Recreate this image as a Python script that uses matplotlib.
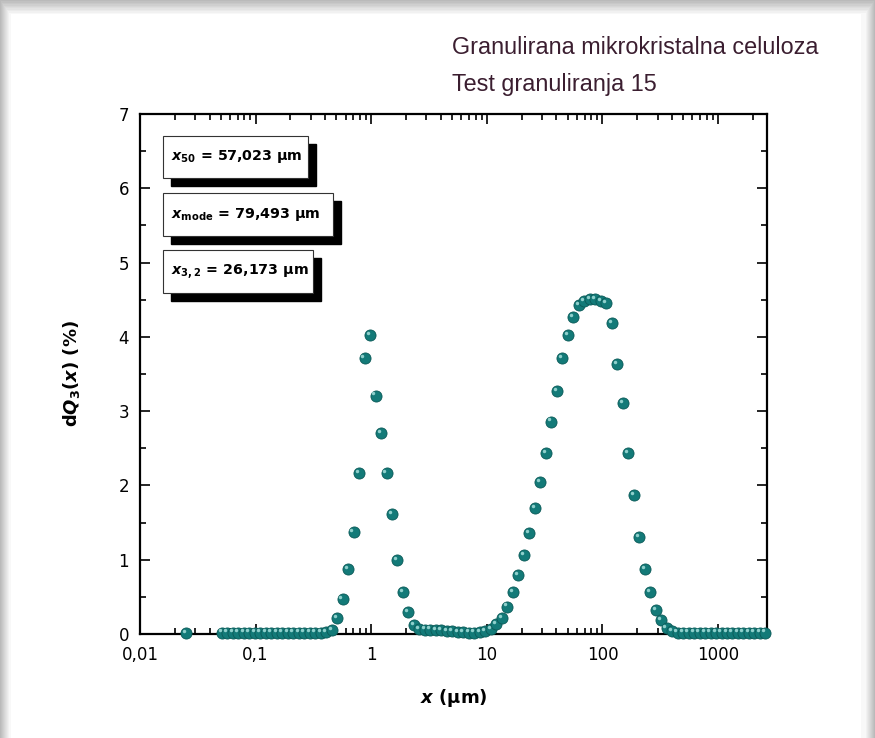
import numpy as np
import matplotlib
matplotlib.use("Agg")
import matplotlib.pyplot as plt
from matplotlib.patches import Rectangle
from matplotlib.ticker import FixedLocator, FixedFormatter, LogLocator, MultipleLocator, NullFormatter
from matplotlib import transforms

# particle size (um) and dQ3 (%)
x_lone = [0.025]
y_lone = [0.01]
x_um = [0.0509, 0.0568, 0.0634, 0.0707, 0.0789, 0.0880, 0.0982, 0.1095, 0.1222, 0.1363,
        0.1521, 0.1697, 0.1893, 0.2112, 0.2356, 0.2628, 0.2932, 0.3271, 0.3649, 0.4071,
        0.4542, 0.5067, 0.5652, 0.6306, 0.7035, 0.7848, 0.8755, 0.9763, 1.089, 1.215,
        1.356, 1.512, 1.687, 1.882, 2.100, 2.343, 2.613, 2.915, 3.252, 3.628,
        4.047, 4.515, 5.037, 5.619, 6.268, 6.993, 7.801, 8.702, 9.707, 10.83,
        12.08, 13.48, 15.04, 16.77, 18.71, 20.88, 23.29, 25.98, 28.98, 32.33,
        36.07, 40.24, 44.89, 50.07, 55.86, 62.32, 69.52, 77.56, 86.53, 96.52,
        107.7, 120.1, 134.0, 149.5, 166.8, 186.1, 207.6, 231.6, 258.3, 288.2,
        321.5, 358.6, 400.1, 446.3, 497.9, 555.5, 619.7, 691.3, 771.2, 860.3,
        959.8, 1071, 1194, 1332, 1486, 1658, 1850, 2064, 2302, 2568]
dq3 = [0.02, 0.02, 0.02, 0.02, 0.02, 0.02, 0.02, 0.02, 0.02, 0.02,
       0.02, 0.02, 0.02, 0.02, 0.02, 0.02, 0.02, 0.02, 0.02, 0.03,
       0.05, 0.22, 0.47, 0.88, 1.37, 2.17, 3.72, 4.03, 3.21, 2.71,
       2.17, 1.62, 0.99, 0.56, 0.29, 0.12, 0.07, 0.06, 0.06, 0.05,
       0.05, 0.04, 0.04, 0.03, 0.03, 0.02, 0.02, 0.03, 0.04, 0.07,
       0.13, 0.21, 0.37, 0.56, 0.79, 1.06, 1.36, 1.69, 2.05, 2.43,
       2.86, 3.27, 3.71, 4.03, 4.27, 4.43, 4.48, 4.51, 4.51, 4.48,
       4.46, 4.18, 3.64, 3.11, 2.44, 1.87, 1.30, 0.87, 0.56, 0.32,
       0.19, 0.08, 0.04, 0.02, 0.02, 0.02, 0.02, 0.02, 0.02, 0.02,
       0.02, 0.02, 0.02, 0.02, 0.02, 0.02, 0.02, 0.02, 0.02, 0.02]

xticks = [0.01, 0.1, 1, 10, 100, 1000]
xticklabels = ["0,01", "0,1", "1", "10", "100", "1000"]
stats = [r"$\mathbfit{x}_{\mathbf{50}}$ = 57,023 μm",
         r"$\mathbfit{x}_{\mathbf{mode}}$ = 79,493 μm",
         r"$\mathbfit{x}_{\mathbf{3,2}}$ = 26,173 μm"]
title_lines = ["Granulirana mikrokristalna celuloza", "Test granuliranja 15"]

fig = plt.figure(figsize=(8.75, 7.38), dpi=100, facecolor="#b9b9b9")

# page with soft shadow
for i in range(10):
    g = 0.73 + 0.027 * i
    fig.add_artist(Rectangle((0.0 + i * 0.0011, -0.1), 1.0 - i * 0.0022, 1.1 - i * 0.0019,
                             transform=fig.transFigure, fc=(g, g, g), ec="none", zorder=-10 + i))
fig.add_artist(Rectangle((11 / 875, -0.1), (861 - 11) / 875, 1.1 - 14 / 738,
                         transform=fig.transFigure, fc="white", ec="none", zorder=0))

ax = fig.add_axes([140 / 875, 1 - 634 / 738, 627 / 875, 520 / 738])
ax.set_zorder(2)
ax.patch.set_facecolor("white")

body = "#137a78"
hl = transforms.offset_copy(ax.transData, fig=fig, x=-1.5, y=1.5, units="points")
for xs, ys in ((x_lone, y_lone), (x_um, dq3)):
    ax.plot(xs, ys, "o", ms=8, mfc=body, mec="#0b5a58", mew=0.6, clip_on=False, zorder=4)
    ax.plot(xs, ys, "o", ms=2.5, mfc="#8fd0cc", mec="none", clip_on=False, zorder=5,
            transform=hl)

ax.set_xscale("log")
ax.set_xlim(0.01, 2650)
ax.set_ylim(0, 7)
ax.xaxis.set_major_locator(FixedLocator(xticks))
ax.xaxis.set_major_formatter(FixedFormatter(xticklabels))
ax.xaxis.set_minor_locator(LogLocator(base=10, subs=np.arange(2, 10)))
ax.xaxis.set_minor_formatter(NullFormatter())
ax.yaxis.set_major_locator(MultipleLocator(1))
ax.yaxis.set_minor_locator(MultipleLocator(0.5))
ax.tick_params(which="both", direction="in", top=True, right=True, width=1.2,
               labelsize=12)
ax.tick_params(which="major", length=7)
ax.tick_params(which="minor", length=4)
ax.tick_params(axis="x", pad=9)
ax.tick_params(axis="y", pad=8)
for s in ax.spines.values():
    s.set_linewidth(1.6)

ax.set_ylabel(r"$\mathbf{d}\mathbfit{Q}_{\mathbf{3}}\mathbf{(}\mathbfit{x}\mathbf{)}$ (%)",
              fontsize=13, fontweight="bold", labelpad=26)
ax.set_xlabel(r"$\mathbfit{x}$ (μm)", fontsize=13, fontweight="bold", labelpad=16)

# statistic boxes with drop shadow (axes fraction)
boxes = [(0.0367, 0.877, 0.231, 0.081), (0.0367, 0.765, 0.271, 0.083),
         (0.0367, 0.656, 0.239, 0.082)]
for (bx, by, bw, bh), txt in zip(boxes, stats):
    ax.add_patch(Rectangle((bx + 0.0128, by - 0.0154), bw, bh, transform=ax.transAxes,
                           fc="black", ec="black", zorder=6))
    ax.add_patch(Rectangle((bx, by), bw, bh, transform=ax.transAxes,
                           fc="white", ec="#333333", lw=0.8, zorder=7))
    ax.text(bx + 0.013, by + bh / 2, txt, transform=ax.transAxes, fontsize=10.3,
            fontweight="bold", va="center", ha="left", zorder=8)

tc = "#3b1e30"
fig.text(452 / 875, 1 - 48 / 738, title_lines[0], fontsize=16.8, color=tc,
         family="Liberation Sans", va="center", ha="left")
fig.text(452 / 875, 1 - 85 / 738, title_lines[1], fontsize=16.8, color=tc,
         family="Liberation Sans", va="center", ha="left")

fig.savefig("out.png", dpi=100, facecolor=fig.get_facecolor())
